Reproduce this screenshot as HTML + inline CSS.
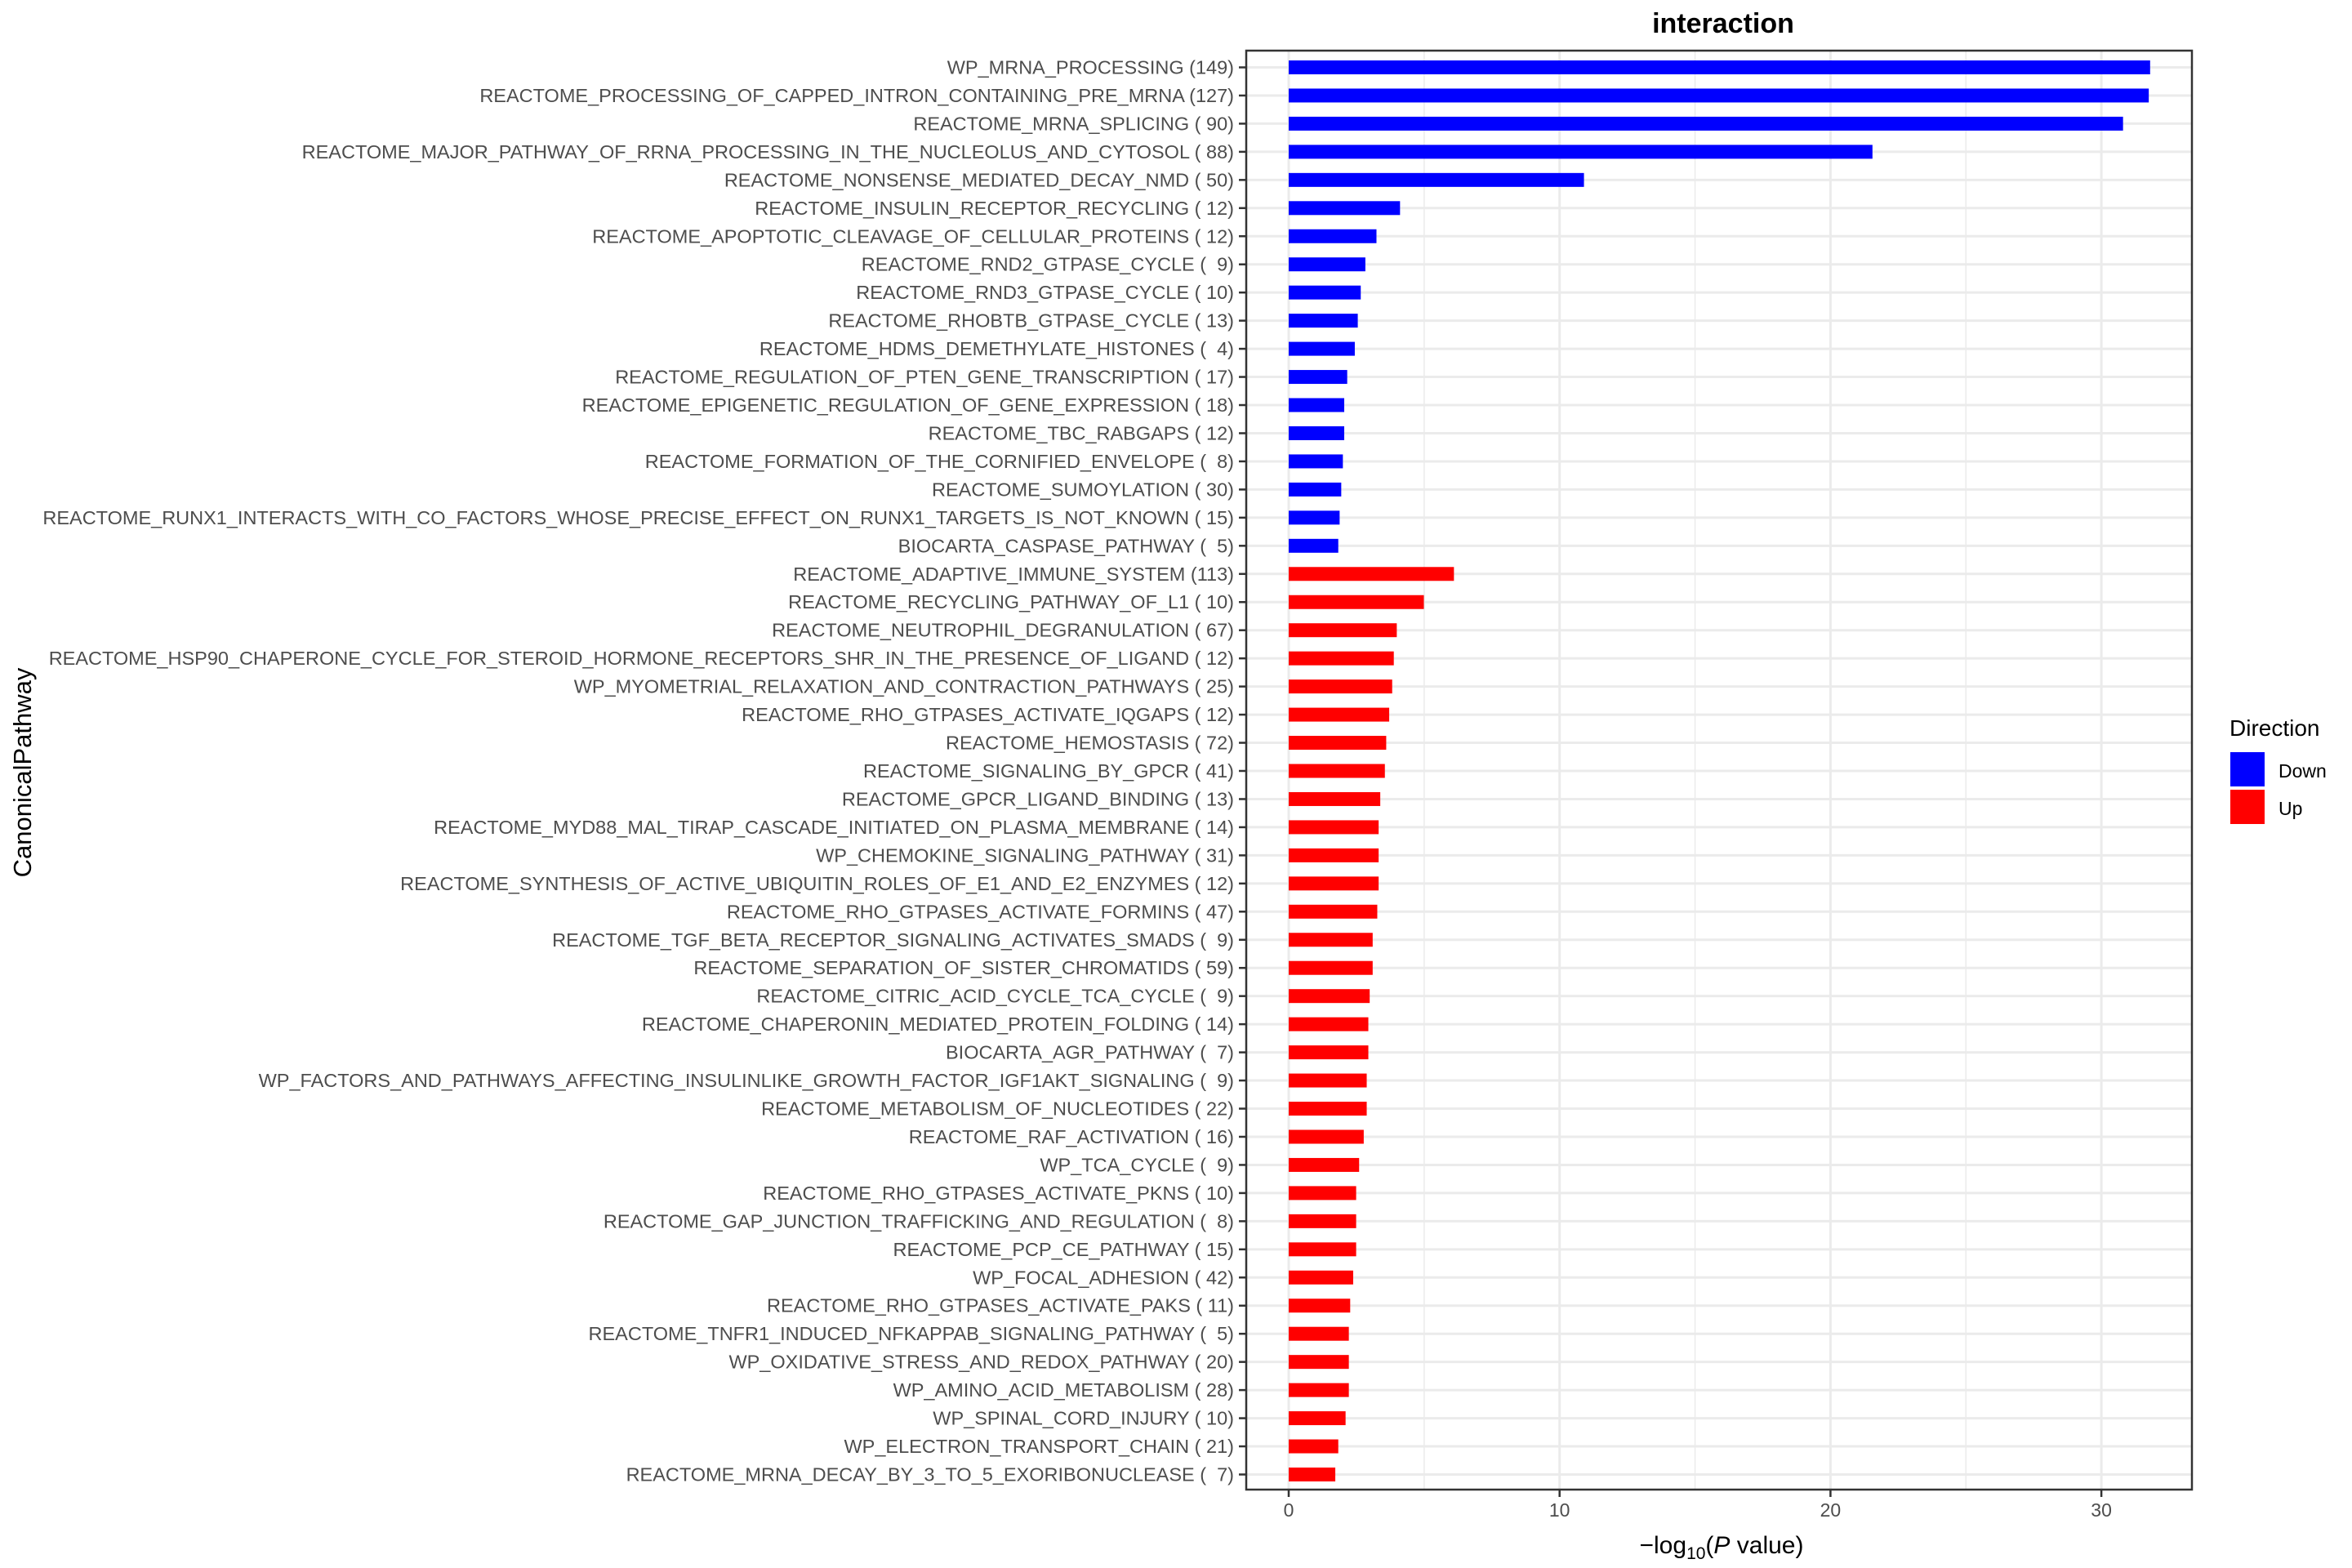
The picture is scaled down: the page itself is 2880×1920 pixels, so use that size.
<!DOCTYPE html>
<html><head><meta charset="utf-8"><style>html,body{margin:0;padding:0;background:#fff}svg{display:block}</style></head>
<body>
<svg id="c" width="2880" height="1920" viewBox="0 0 2880 1920" xmlns="http://www.w3.org/2000/svg" font-family="Liberation Sans, Arial, sans-serif">
<rect width="2880" height="1920" fill="#fff"/>
<g id="grid"></g>
<g id="bars"></g>
<rect x="1526" y="62" width="1158" height="1762" fill="none" stroke="#333" stroke-width="2.5"/>
<g id="labels" font-size="23.5" fill="#4d4d4d" text-anchor="end"></g>
<g id="xt" font-size="23" fill="#4d4d4d" text-anchor="middle"></g>
<text x="2110" y="40" font-size="34" font-weight="bold" text-anchor="middle">interaction</text>
<text x="2108" y="1902" font-size="30" text-anchor="middle">−log<tspan font-size="21" dy="7">10</tspan><tspan dy="-7">(</tspan><tspan font-style="italic">P</tspan> value)</text>
<text transform="translate(38,946) rotate(-90)" font-size="31" text-anchor="middle">CanonicalPathway</text>
<text x="2730" y="901" font-size="28">Direction</text>
<rect x="2731" y="921" width="42" height="42" fill="#0000ff"/>
<rect x="2731" y="967" width="42" height="42" fill="#ff0000"/>
<text x="2790" y="952" font-size="23">Down</text>
<text x="2790" y="998" font-size="23">Up</text>
</svg>
<script>
var d=[
["WP_MRNA_PROCESSING (149)",31.8],["REACTOME_PROCESSING_OF_CAPPED_INTRON_CONTAINING_PRE_MRNA (127)",31.75],["REACTOME_MRNA_SPLICING ( 90)",30.8],["REACTOME_MAJOR_PATHWAY_OF_RRNA_PROCESSING_IN_THE_NUCLEOLUS_AND_CYTOSOL ( 88)",21.55],["REACTOME_NONSENSE_MEDIATED_DECAY_NMD ( 50)",10.9],["REACTOME_INSULIN_RECEPTOR_RECYCLING ( 12)",4.11],["REACTOME_APOPTOTIC_CLEAVAGE_OF_CELLULAR_PROTEINS ( 12)",3.24],["REACTOME_RND2_GTPASE_CYCLE (  9)",2.83],["REACTOME_RND3_GTPASE_CYCLE ( 10)",2.66],["REACTOME_RHOBTB_GTPASE_CYCLE ( 13)",2.55],["REACTOME_HDMS_DEMETHYLATE_HISTONES (  4)",2.44],["REACTOME_REGULATION_OF_PTEN_GENE_TRANSCRIPTION ( 17)",2.16],["REACTOME_EPIGENETIC_REGULATION_OF_GENE_EXPRESSION ( 18)",2.05],["REACTOME_TBC_RABGAPS ( 12)",2.05],["REACTOME_FORMATION_OF_THE_CORNIFIED_ENVELOPE (  8)",2.0],["REACTOME_SUMOYLATION ( 30)",1.94],["REACTOME_RUNX1_INTERACTS_WITH_CO_FACTORS_WHOSE_PRECISE_EFFECT_ON_RUNX1_TARGETS_IS_NOT_KNOWN ( 15)",1.88],["BIOCARTA_CASPASE_PATHWAY (  5)",1.83],
["REACTOME_ADAPTIVE_IMMUNE_SYSTEM (113)",6.1],["REACTOME_RECYCLING_PATHWAY_OF_L1 ( 10)",4.99],["REACTOME_NEUTROPHIL_DEGRANULATION ( 67)",3.99],["REACTOME_HSP90_CHAPERONE_CYCLE_FOR_STEROID_HORMONE_RECEPTORS_SHR_IN_THE_PRESENCE_OF_LIGAND ( 12)",3.88],["WP_MYOMETRIAL_RELAXATION_AND_CONTRACTION_PATHWAYS ( 25)",3.82],["REACTOME_RHO_GTPASES_ACTIVATE_IQGAPS ( 12)",3.71],["REACTOME_HEMOSTASIS ( 72)",3.6],["REACTOME_SIGNALING_BY_GPCR ( 41)",3.55],["REACTOME_GPCR_LIGAND_BINDING ( 13)",3.38],["REACTOME_MYD88_MAL_TIRAP_CASCADE_INITIATED_ON_PLASMA_MEMBRANE ( 14)",3.32],["WP_CHEMOKINE_SIGNALING_PATHWAY ( 31)",3.32],["REACTOME_SYNTHESIS_OF_ACTIVE_UBIQUITIN_ROLES_OF_E1_AND_E2_ENZYMES ( 12)",3.32],["REACTOME_RHO_GTPASES_ACTIVATE_FORMINS ( 47)",3.27],["REACTOME_TGF_BETA_RECEPTOR_SIGNALING_ACTIVATES_SMADS (  9)",3.1],["REACTOME_SEPARATION_OF_SISTER_CHROMATIDS ( 59)",3.1],["REACTOME_CITRIC_ACID_CYCLE_TCA_CYCLE (  9)",2.99],["REACTOME_CHAPERONIN_MEDIATED_PROTEIN_FOLDING ( 14)",2.94],["BIOCARTA_AGR_PATHWAY (  7)",2.94],["WP_FACTORS_AND_PATHWAYS_AFFECTING_INSULINLIKE_GROWTH_FACTOR_IGF1AKT_SIGNALING (  9)",2.88],["REACTOME_METABOLISM_OF_NUCLEOTIDES ( 22)",2.88],["REACTOME_RAF_ACTIVATION ( 16)",2.77],["WP_TCA_CYCLE (  9)",2.6],["REACTOME_RHO_GTPASES_ACTIVATE_PKNS ( 10)",2.49],["REACTOME_GAP_JUNCTION_TRAFFICKING_AND_REGULATION (  8)",2.49],["REACTOME_PCP_CE_PATHWAY ( 15)",2.49],["WP_FOCAL_ADHESION ( 42)",2.38],["REACTOME_RHO_GTPASES_ACTIVATE_PAKS ( 11)",2.27],["REACTOME_TNFR1_INDUCED_NFKAPPAB_SIGNALING_PATHWAY (  5)",2.22],["WP_OXIDATIVE_STRESS_AND_REDOX_PATHWAY ( 20)",2.22],["WP_AMINO_ACID_METABOLISM ( 28)",2.22],["WP_SPINAL_CORD_INJURY ( 10)",2.1],["WP_ELECTRON_TRANSPORT_CHAIN ( 21)",1.83],["REACTOME_MRNA_DECAY_BY_3_TO_5_EXORIBONUCLEASE (  7)",1.72]];
var NS="http://www.w3.org/2000/svg";
function el(p,t,a,txt){var e=document.createElementNS(NS,t);for(var k in a)e.setAttribute(k,a[k]);if(txt!=null)e.textContent=txt;p.appendChild(e);return e;}
var g=document.getElementById('grid'),b=document.getElementById('bars'),L=document.getElementById('labels'),X=document.getElementById('xt');
var x0=1578,s=33.17,y0=82.5,dy=34.46;
[5,15,25].forEach(function(v){el(g,'line',{x1:x0+v*s,x2:x0+v*s,y1:62,y2:1824,stroke:'#ebebeb','stroke-width':1.5});});
[0,10,20,30].forEach(function(v){var x=x0+v*s;el(g,'line',{x1:x,x2:x,y1:62,y2:1824,stroke:'#ebebeb','stroke-width':3});el(g,'line',{x1:x,x2:x,y1:1824,y2:1833,stroke:'#333','stroke-width':2.5});el(X,'text',{x:x,y:1857},String(v));});
d.forEach(function(r,i){var y=y0+i*dy;el(g,'line',{x1:1526,x2:2684,y1:y,y2:y,stroke:'#ebebeb','stroke-width':3});
el(b,'rect',{x:x0,y:y-8.5,width:r[1]*s,height:17,fill:i<18?'#0000ff':'#ff0000'});
el(g,'line',{x1:1517,x2:1526,y1:y,y2:y,stroke:'#333','stroke-width':2.5});
var t=el(L,'text',{x:1511,y:y+8,'xml:space':'preserve'},r[0]);t.style.whiteSpace='pre';});
</script>
</body></html>
